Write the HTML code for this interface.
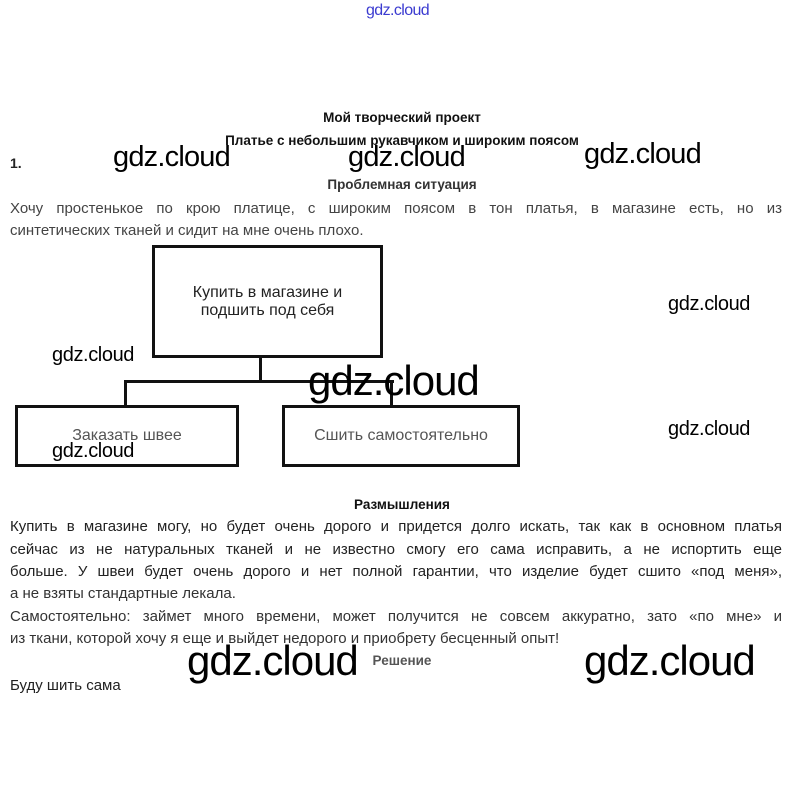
<!DOCTYPE html>
<html><head><meta charset="utf-8"><style>
html,body{margin:0;padding:0;background:#fff;}
body{width:804px;height:796px;position:relative;overflow:hidden;font-family:"Liberation Sans","DejaVu Sans",sans-serif;color:#222;}
.a{position:absolute;white-space:nowrap;}
.j{position:absolute;left:10px;width:772px;font-size:15px;text-align:justify;text-align-last:justify;white-space:nowrap;color:#222;}
.c{position:absolute;left:0;width:804px;text-align:center;font-weight:bold;font-size:13.5px;color:#111;}
.wm{position:absolute;font-size:29px;color:#000;white-space:nowrap;letter-spacing:-0.8px;}
.wms{position:absolute;font-size:20px;color:#000;white-space:nowrap;letter-spacing:-0.4px;}
.wml{position:absolute;font-size:42px;color:#000;white-space:nowrap;letter-spacing:-1px;}
.box{position:absolute;border:3px solid #111;box-sizing:border-box;display:flex;align-items:center;justify-content:center;text-align:center;font-size:16px;color:#222;}
.ln{position:absolute;background:#111;}
</style></head><body>
<div class="a" style="left:366px;top:2px;font-size:16px;color:#3b3bd0;letter-spacing:-0.6px;">gdz.cloud</div>

<div class="c" style="top:110px;">Мой творческий проект</div>
<div class="c" style="top:133px;">Платье с небольшим рукавчиком и широким поясом</div>
<div class="a" style="left:10px;top:155px;font-size:14px;font-weight:bold;">1.</div>
<div class="c" style="top:177px;color:#333;">Проблемная ситуация</div>
<div class="j" style="top:200px;color:#444;">Хочу простенькое по крою платице, с широким поясом в тон платья, в магазине есть, но из</div>
<div class="a" style="left:10px;top:222px;font-size:15px;color:#444;">синтетических тканей и сидит на мне очень плохо.</div>

<div class="box" style="left:152px;top:245px;width:231px;height:113px;">Купить в магазине и<br>подшить под себя</div>
<div class="ln" style="left:259px;top:357px;width:3px;height:26px;"></div>
<div class="ln" style="left:124px;top:380px;width:270px;height:3px;"></div>
<div class="ln" style="left:124px;top:380px;width:3px;height:27px;"></div>
<div class="ln" style="left:390px;top:380px;width:3px;height:27px;"></div>
<div class="box" style="left:15px;top:405px;width:224px;height:62px;color:#555;">Заказать швее</div>
<div class="box" style="left:282px;top:405px;width:238px;height:62px;color:#555;">Сшить самостоятельно</div>

<div class="c" style="top:497px;">Размышления</div>
<div class="j" style="top:518px;">Купить в магазине могу, но будет очень дорого и придется долго искать, так как в основном платья</div>
<div class="j" style="top:541px;">сейчас из не натуральных тканей и не известно смогу его сама исправить, а не испортить еще</div>
<div class="j" style="top:563px;">больше. У швеи будет очень дорого и нет полной гарантии, что изделие будет сшито «под меня»,</div>
<div class="a" style="left:10px;top:585px;font-size:15px;color:#333;">а не взяты стандартные лекала.</div>
<div class="j" style="top:608px;color:#333;">Самостоятельно: займет много времени, может получится не совсем аккуратно, зато «по мне» и</div>
<div class="a" style="left:10px;top:630px;font-size:15px;color:#333;">из ткани, которой хочу я еще и выйдет недорого и приобрету бесценный опыт!</div>
<div class="c" style="top:653px;color:#555;">Решение</div>
<div class="a" style="left:10px;top:677px;font-size:15px;color:#222;">Буду шить сама</div>

<div class="wm" style="left:113px;top:141px;">gdz.cloud</div>
<div class="wm" style="left:348px;top:141px;">gdz.cloud</div>
<div class="wm" style="left:584px;top:138px;">gdz.cloud</div>
<div class="wms" style="left:668px;top:293px;">gdz.cloud</div>
<div class="wms" style="left:52px;top:344px;">gdz.cloud</div>
<div class="wml" style="left:308px;top:357px;">gdz.cloud</div>
<div class="wms" style="left:668px;top:418px;">gdz.cloud</div>
<div class="wms" style="left:52px;top:440px;">gdz.cloud</div>
<div class="wml" style="left:187px;top:637px;">gdz.cloud</div>
<div class="wml" style="left:584px;top:637px;">gdz.cloud</div>
</body></html>
